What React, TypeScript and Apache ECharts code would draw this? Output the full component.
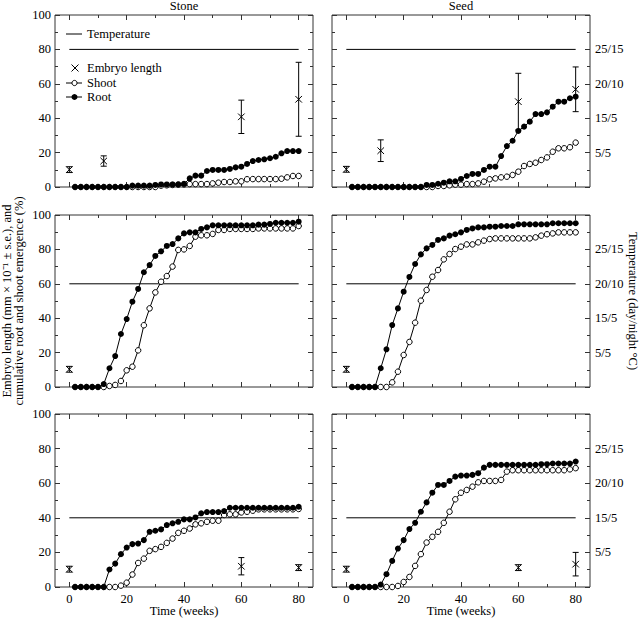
import { useEffect, useRef } from 'react';
import * as echarts from 'echarts';

const FONT = '"Liberation Serif", "Times New Roman", serif';

// Sampling weeks for root / shoot emergence
const weeks = [2, 4, 6, 8, 10, 12, 14, 16, 18, 20, 22, 24, 26, 28, 30, 32, 34, 36, 38, 40,
  42, 44, 46, 48, 50, 52, 54, 56, 58, 60, 62, 64, 66, 68, 70, 72, 74, 76, 78, 80];

const columnTitles = ['Stone', 'Seed'];
const temperatureLevels = [80, 60, 40]; // row 1, 2, 3 (on the 0-100 scale)
const temperatureSpan = [0, 80];
const temperatureTickLabels: Record<number, string> = { 20: '5/5', 40: '15/5', 60: '20/10', 80: '25/15' };
const xTickMajor = [0, 20, 40, 60, 80];
const xTickMinor = [10, 30, 50, 70];

// Row 1 (25/15)
const stoneTopRoot = [0, 0, 0, 0, 0, 0, 0, 0, 0, 0, 0.8, 0.8, 0.8, 0.8, 1.2, 1.5, 1.5, 1.5, 1.5, 1.8,
  5.0, 6.6, 6.6, 9.3, 9.9, 9.9, 9.9, 10.5, 11.4, 11.8, 13.4, 15.1, 15.7, 16.1, 16.7, 17.6, 19.6, 20.9, 20.9, 20.9];
const stoneTopShoot = [0, 0, 0, 0, 0, 0, 0, 0, 0, 0, 0, 0, 0, 0, 0, 0.8, 1, 1.2, 1.4, 1.5,
  1.7, 1.7, 1.7, 1.7, 2.1, 2.5, 2.9, 2.9, 3.3, 3.3, 4.5, 4.6, 4.6, 4.6, 4.6, 4.6, 4.8, 5.6, 6.4, 6.4];
const stoneTopEmbryo = [[0, 10.1, 1.7], [12, 15.1, 3], [60, 40.8, 9.7], [80, 51, 21.5]];

const seedTopRoot = [0, 0, 0, 0, 0, 0, 0, 0, 0, 0, 0, 0, 0,
  1.2, 1.2, 1.9, 2.5, 3.3, 3.3, 4.7, 6.4, 7.6, 7.6, 9.9, 11.8, 11.8, 18, 23.8, 26.9, 32.6, 35.1, 38, 42.4,
  42.4, 43.4, 46.7, 49.6, 49.6, 51.6, 52.5];
const seedTopShoot = [0, 0, 0, 0, 0, 0, 0, 0, 0, 0, 0, 0, 0, 0, 0,
  0.6, 0.6, 1, 1.4, 1.4, 1.7, 1.7, 2.1, 3.1, 4.5, 5, 5.6, 6, 7, 8.9, 12.2, 13.4, 14.1, 15.7, 17.2,
  20.5, 22.5, 22.5, 23.1, 25.8];
const seedTopEmbryo = [[0, 10.3, 1.7], [12, 21.1, 6.3], [60, 49.6, 16.5], [80, 56.8, 13]];

// Row 2 (20/10)
const stoneMidRoot = [0, 0, 0, 0, 0,
  1.7, 10.9, 18, 30.8, 39.5, 49.6, 57, 66.7, 70.9, 76.2,
  78.9, 82, 83.1, 86.4, 89.3, 89.9, 89.9, 91.9, 92.8, 94,
  94, 94, 94, 94, 94, 94, 94, 94.4, 94.4, 94.8, 95.5, 95.5, 95.5, 95.5, 96.1];
const stoneMidShoot = [0, 0, 0, 0, 0, 0,
  0.6, 1.2, 3.5, 9.7, 11.8, 21.3, 35.9, 45.7, 55, 61.2,
  64.5, 70, 79.7, 80, 82, 87.4, 88.2, 88.2, 89, 91.3,
  91.3, 91.9, 91.9, 91.9, 91.9, 91.9, 92.2, 92.2, 92.2, 92.2, 92.2, 92.2, 92.2, 93.6];
const stoneMidEmbryo = [[0, 10.3, 1.7]];

const seedMidRoot = [0, 0, 0, 0, 0,
  10.9, 21.9, 36, 45.7, 55.4, 64, 71.5, 77.1, 80.6, 82.6,
  85.5, 86.4, 88, 88.8, 89.9, 91.3, 92.2, 92.8, 92.8, 93.2,
  93.2, 93.6, 93.6, 93.6, 94.6, 94.6, 94.6, 94.6, 94.6, 94.6, 95.2, 95.2, 95.2, 95.2, 95.2];
const seedMidShoot = [0, 0, 0, 0, 0, 0, 0,
  2.7, 8.9, 18.6, 26.2, 37.4, 50.2, 56.4, 64.1, 68, 74.2,
  77.3, 80.2, 81.6, 82.9, 82.9, 84.1, 85.1, 86, 86.4, 86.4,
  86.4, 86.4, 86.4, 86.4, 86.4, 87, 88, 88.8, 89.3, 89.9, 89.9, 89.9, 89.9];
const seedMidEmbryo = [[0, 10.3, 1.7]];

// Row 3 (15/5)
const stoneLowRoot = [0, 0, 0, 0, 0, 0,
  10.1, 13.5, 19, 22.8, 24.8, 25.1, 27.1, 31.9, 32.5, 33.3,
  35.8, 36.8, 37.7, 39.1, 39.1, 40.2, 42.6, 43.3, 43.3, 43.3,
  43.9, 45.8, 45.8, 45.8, 45.8, 45.8, 45.8, 45.8, 45.8, 45.8, 45.8, 45.8, 45.8, 46.4];
const stoneLowShoot = [0, 0, 0, 0, 0, 0, 0, 0,
  0.8, 2.5, 7.2, 13.9, 16.4, 20.9, 21.9, 23.2, 25.5, 28,
  31.3, 32.5, 33.8, 36.2, 36.8, 37.7, 38.3, 38.3, 41.6, 42,
  42, 43.1, 43.5, 44.1, 44.9, 44.9, 44.9, 44.9, 44.9, 44.9, 44.9, 45.1];
const stoneLowEmbryo = [[0, 10.3, 1.7], [60, 12, 5], [80, 11.2, 1.7]];

const seedLowRoot = [0, 0, 0, 0, 0,
  1.4, 7.4, 15.1, 22.2, 27.1, 33.5, 37.1, 43.5, 48.9, 54.5,
  59, 59, 61.3, 63.8, 64.4, 64.4, 64.8, 65.8, 69, 70.6,
  70.6, 70.6, 70.6, 70.6, 70.6, 70.6, 70.6, 70.6, 71, 71, 71.4, 71.4, 71.4, 71.4, 72.5];
const seedLowShoot = [0, 0, 0, 0, 0, 0, 0, 0,
  0.6, 2.9, 5.8, 12.2, 19, 25.7, 29, 31.9, 37.1, 43.5,
  50.7, 54.5, 56.1, 58, 60.5, 61.3, 61.3, 61.3, 61.9, 66.7,
  67.5, 67.5, 67.5, 67.5, 67.5, 67.5, 67.5, 67.5, 67.5, 67.5, 68, 68.7];
const seedLowEmbryo = [[0, 10.3, 1.7], [60, 11.2, 1.7], [80, 13.2, 6.8]];

const panels = [
  { root: stoneTopRoot, shoot: stoneTopShoot, embryo: stoneTopEmbryo },
  { root: seedTopRoot, shoot: seedTopShoot, embryo: seedTopEmbryo },
  { root: stoneMidRoot, shoot: stoneMidShoot, embryo: stoneMidEmbryo },
  { root: seedMidRoot, shoot: seedMidShoot, embryo: seedMidEmbryo },
  { root: stoneLowRoot, shoot: stoneLowShoot, embryo: stoneLowEmbryo },
  { root: seedLowRoot, shoot: seedLowShoot, embryo: seedLowEmbryo },
];

const GRID_LEFT = [55, 332];
const GRID_TOP = [15, 215, 414];
const GRID_W = 258;
const GRID_H = [172, 172, 173];
const INK = '#000';
const FRAME = '#333';

function buildOption() {
  const grids: any[] = [];
  const xAxes: any[] = [];
  const yAxes: any[] = [];
  const series: any[] = [];

  panels.forEach((p, i) => {
    const col = i % 2;
    const row = Math.floor(i / 2);
    grids.push({
      left: GRID_LEFT[col], top: GRID_TOP[row], width: GRID_W, height: GRID_H[row],
      show: true, borderColor: FRAME, borderWidth: 1, backgroundColor: 'transparent',
    });
    const mkX = (position: string, values: number[], len: number, labels: boolean) => ({
      type: 'value', gridIndex: i, min: -5, max: 85, position,
      axisLine: { show: false, onZero: false },
      splitLine: { show: false },
      axisTick: { show: true, inside: true, length: len, customValues: values, lineStyle: { color: FRAME, width: 1 } },
      axisLabel: {
        show: labels, customValues: values, margin: 5,
        fontFamily: FONT, fontSize: 12.5, color: INK,
      },
    });
    xAxes.push(mkX('bottom', xTickMajor, 5, row === 2));
    xAxes.push(mkX('bottom', xTickMinor, 3, false));
    xAxes.push(mkX('top', xTickMajor, 5, false));
    xAxes.push(mkX('top', xTickMinor, 3, false));

    const mkY = (position: string, labels: boolean, formatter?: any) => ({
      type: 'value', gridIndex: i, min: 0, max: 100, interval: 20, position,
      axisLine: { show: false, onZero: false },
      splitLine: { show: false },
      minorSplitLine: { show: false },
      axisTick: { show: true, inside: true, length: 5, lineStyle: { color: FRAME, width: 1 } },
      minorTick: { show: true, splitNumber: 2, length: 3, lineStyle: { color: FRAME, width: 1 } },
      axisLabel: {
        show: labels, margin: position === 'left' ? 4 : 5,
        fontFamily: FONT, fontSize: 12.5, color: INK,
        formatter,
        showMinLabel: true, showMaxLabel: true,
      },
    });
    yAxes.push(mkY('left', col === 0));
    yAxes.push(mkY('right', col === 1, (v: number) => temperatureTickLabels[v] || ''));

    const xi = i * 4;
    const yi = i * 2;
    const temp = temperatureLevels[row];
    series.push({
      type: 'line', name: 'Temperature', xAxisIndex: xi, yAxisIndex: yi,
      data: temperatureSpan.map((x) => [x, temp]),
      showSymbol: false, symbol: 'none', clip: false,
      lineStyle: { color: INK, width: 1 },
    });
    series.push({
      type: 'line', name: 'Shoot', xAxisIndex: xi, yAxisIndex: yi,
      data: weeks.map((w, k) => [w, p.shoot[k]]),
      symbol: 'circle', symbolSize: 5.5, clip: false,
      itemStyle: { color: '#fff', borderColor: INK, borderWidth: 1 },
      lineStyle: { color: INK, width: 1 },
    });
    series.push({
      type: 'line', name: 'Root', xAxisIndex: xi, yAxisIndex: yi,
      data: weeks.map((w, k) => [w, p.root[k]]),
      symbol: 'circle', symbolSize: 6, clip: false,
      itemStyle: { color: INK, borderColor: INK, borderWidth: 0 },
      lineStyle: { color: INK, width: 1 },
    });
    series.push({
      type: 'custom', name: 'Embryo length', xAxisIndex: xi, yAxisIndex: yi,
      dimensions: ['x', 'y', 'se'],
      encode: { x: 0, y: 1 },
      data: p.embryo,
      clip: false,
      renderItem: (params: any, api: any) => {
        const x = api.value(0);
        const y = api.value(1);
        const e = api.value(2);
        const c = api.coord([x, y]);
        const t = api.coord([x, y + e]);
        const b = api.coord([x, y - e]);
        const s = 3.3;
        const cap = 3;
        const st = { stroke: INK, lineWidth: 1 };
        return {
          type: 'group',
          children: [
            { type: 'line', shape: { x1: c[0], y1: t[1], x2: c[0], y2: b[1] }, style: st },
            { type: 'line', shape: { x1: c[0] - cap, y1: t[1], x2: c[0] + cap, y2: t[1] }, style: st },
            { type: 'line', shape: { x1: c[0] - cap, y1: b[1], x2: c[0] + cap, y2: b[1] }, style: st },
            { type: 'line', shape: { x1: c[0] - s, y1: c[1] - s, x2: c[0] + s, y2: c[1] + s }, style: st },
            { type: 'line', shape: { x1: c[0] - s, y1: c[1] + s, x2: c[0] + s, y2: c[1] - s }, style: st },
          ],
        };
      },
    });
  });

  const txt = (x: number, y: number, text: string, extra: any = {}) => ({
    type: 'text', x, y,
    style: {
      text, fill: INK, fontFamily: FONT, fontSize: 12.5,
      textAlign: 'left', textVerticalAlign: 'middle', ...extra,
    },
  });
  const ln = (x1: number, y1: number, x2: number, y2: number) => ({
    type: 'line', shape: { x1, y1, x2, y2 }, style: { stroke: INK, lineWidth: 1 },
  });

  const graphic: any[] = [
    // column titles
    txt(GRID_LEFT[0] + GRID_W / 2, 6, columnTitles[0], { textAlign: 'center' }),
    txt(GRID_LEFT[1] + GRID_W / 2, 6, columnTitles[1], { textAlign: 'center' }),
    // x axis titles
    txt(GRID_LEFT[0] + GRID_W / 2, 611, 'Time (weeks)', { textAlign: 'center' }),
    txt(GRID_LEFT[1] + GRID_W / 2, 611, 'Time (weeks)', { textAlign: 'center' }),
    // left y title
    {
      type: 'text', x: 12.5, y: 301, rotation: Math.PI / 2,
      style: {
        text: 'Embryo length (mm × 10⁻¹ ± s.e.), and\ncumulative root and shoot emergence (%)',
        fill: INK, fontFamily: FONT, fontSize: 12.5, lineHeight: 12,
        textAlign: 'center', textVerticalAlign: 'middle',
      },
    },
    // right y title
    {
      type: 'text', x: 633, y: 301, rotation: -Math.PI / 2,
      style: {
        text: 'Temperature (day/night °C)',
        fill: INK, fontFamily: FONT, fontSize: 12.5,
        textAlign: 'center', textVerticalAlign: 'middle',
      },
    },
    // legend
    ln(66, 34, 82, 34), txt(87, 34, 'Temperature'),
    ln(71.5, 64.5, 78.5, 71.5), ln(71.5, 71.5, 78.5, 64.5), txt(87, 68, 'Embryo length'),
    ln(66, 83, 82, 83),
    { type: 'circle', shape: { cx: 74.5, cy: 83, r: 2.6 }, style: { fill: '#fff', stroke: INK, lineWidth: 1 } },
    txt(87, 83, 'Shoot'),
    ln(66, 97, 82, 97),
    { type: 'circle', shape: { cx: 74.5, cy: 97, r: 3 }, style: { fill: INK } },
    txt(87, 97, 'Root'),
  ];

  return {
    animation: false,
    backgroundColor: '#fff',
    textStyle: { fontFamily: FONT },
    grid: grids,
    xAxis: xAxes,
    yAxis: yAxes,
    series,
    graphic,
  };
}

export default function App() {
  const ref = useRef<HTMLDivElement>(null);
  useEffect(() => {
    if (!ref.current) return;
    const chart = echarts.init(ref.current, undefined, { renderer: 'svg' });
    chart.setOption(buildOption() as any);
    return () => chart.dispose();
  }, []);
  return (
    <div
      ref={ref}
      style={{ position: 'absolute', left: 0, top: 0, width: 640, height: 620, background: '#fff' }}
    />
  );
}
